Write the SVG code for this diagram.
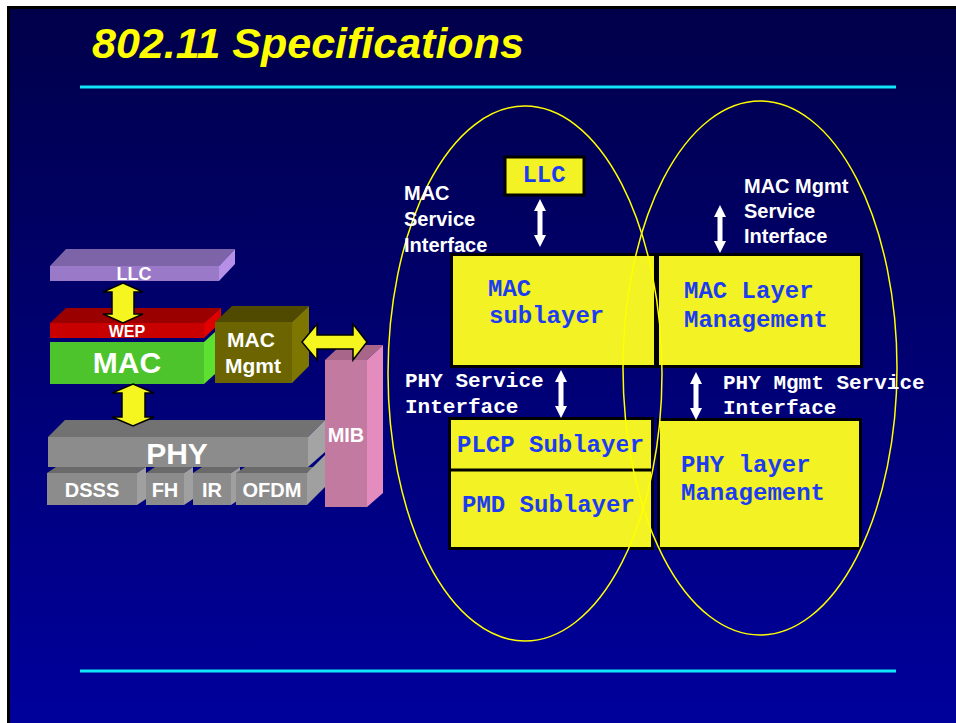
<svg xmlns="http://www.w3.org/2000/svg" width="956" height="723" viewBox="0 0 956 723">
<defs>
<linearGradient id="bg" x1="0" y1="0" x2="0" y2="1">
<stop offset="0" stop-color="#00004a"/>
<stop offset="1" stop-color="#00009c"/>
</linearGradient>
<style>
.lab{font-family:"Liberation Sans",Arial,sans-serif;font-weight:bold;fill:#ffffff}
.mono{font-family:"Liberation Mono","Courier New",monospace;font-weight:bold}
.wm{fill:#ffffff;font-size:21px}
.bm{fill:#1c3cf2;font-size:24px}
.box{fill:#f2f224;stroke:#000000;stroke-width:3}
.ell{fill:none;stroke:#ffff00;stroke-width:1.5}
.yarr{fill:#f5f520;stroke:#000000;stroke-width:1.5;stroke-linejoin:miter}
.warr{fill:#ffffff}
.rule{stroke:#10e8f8;stroke-width:3}
.c{text-anchor:middle}
</style>
</defs>
<rect x="0" y="0" width="956" height="723" fill="#ffffff"/>
<rect x="7" y="6" width="949" height="717" fill="#000000"/>
<rect x="10" y="9" width="946" height="714" fill="url(#bg)"/>
<text x="92" y="58" font-family="Liberation Sans,Arial,sans-serif" font-weight="bold" font-style="italic" font-size="43" fill="#ffff00">802.11 Specifications</text>
<line class="rule" x1="80" y1="87" x2="896" y2="87"/>
<line class="rule" x1="80" y1="671" x2="896" y2="671"/>

<g id="llc-slab">
<polygon points="50,266 219,266 235,249 66,249" fill="#7d64a8"/>
<polygon points="219,266 235,249 235,264 219,281" fill="#b690e6"/>
<rect x="50" y="266" width="169" height="15" fill="#9b79c9"/>
<text class="lab c" x="134" y="280" font-size="18">LLC</text>
</g>
<g id="wep-slab">
<polygon points="50,323 204,323 221,308 66,308" fill="#9a0000"/>
<polygon points="204,323 221,308 221,322 204,338" fill="#e00000"/>
<rect x="50" y="323" width="154" height="15" fill="#c80000"/>
<text class="lab c" x="127" y="337" font-size="16">WEP</text>
</g>
<g id="mac-slab">
<polygon points="204,342 215,332 215,374 204,384" fill="#5ee030"/>
<rect x="50" y="342" width="154" height="42" fill="#4dc42b"/>
<text class="lab c" x="127" y="373" font-size="30">MAC</text>
</g>
<g id="mac-mgmt">
<polygon points="215,322 292,322 309,306 232,306" fill="#4f4a00"/>
<polygon points="292,322 309,306 309,366 292,383" fill="#7d7600"/>
<rect x="215" y="322" width="77" height="61" fill="#6b6400"/>
<text class="lab c" x="251" y="347" font-size="21">MAC</text>
<text class="lab c" x="253" y="373" font-size="21">Mgmt</text>
</g>
<g id="phy-slab">
<polygon points="48,437 308,437 325,420 65,420" fill="#727272"/>
<polygon points="308,437 325,420 325,452 308,467" fill="#a4a4a4"/>
<rect x="48" y="437" width="260" height="30" fill="#8c8c8c"/>
<text class="lab c" x="177" y="464" font-size="30">PHY</text>
</g>
<g id="dsss">
<polygon points="47,473 137,473 146,467 56,467" fill="#6a6a6a"/>
<polygon points="137,473 146,467 146,499 137,505" fill="#a0a0a0"/>
<rect x="47" y="473" width="90" height="32" fill="#8c8c8c"/>
<text class="lab c" x="92" y="497" font-size="20">DSSS</text>
</g>
<g id="fh">
<polygon points="146,473 184,473 193,467 155,467" fill="#6a6a6a"/>
<polygon points="184,473 193,467 193,499 184,505" fill="#a0a0a0"/>
<rect x="146" y="473" width="38" height="32" fill="#8c8c8c"/>
<text class="lab c" x="165" y="497" font-size="20">FH</text>
</g>
<g id="ir">
<polygon points="193,473 231,473 240,467 202,467" fill="#6a6a6a"/>
<polygon points="231,473 240,467 240,499 231,505" fill="#a0a0a0"/>
<rect x="193" y="473" width="38" height="32" fill="#8c8c8c"/>
<text class="lab c" x="212" y="497" font-size="20">IR</text>
</g>
<g id="ofdm">
<polygon points="236,473 307,473 316,467 245,467" fill="#6a6a6a"/>
<polygon points="307,473 325,455 325,487 307,505" fill="#a0a0a0"/>
<rect x="236" y="473" width="71" height="32" fill="#8c8c8c"/>
<text class="lab c" x="272" y="497" font-size="20">OFDM</text>
</g>
<g id="mib">
<polygon points="325,360 367,360 383,345 341,345" fill="#a8668a"/>
<polygon points="367,360 383,345 383,493 367,507" fill="#e48cbe"/>
<rect x="325" y="360" width="42" height="147" fill="#c27aa0"/>
<text class="lab c" x="346" y="442" font-size="20">MIB</text>
</g>

<g id="r-llc">
<rect class="box" x="505" y="157" width="79" height="38"/>
<text class="mono bm c" x="544" y="182">LLC</text>
</g>
<g id="mac-sublayer">
<rect class="box" x="451.5" y="254.5" width="204" height="112"/>
<text class="mono bm" x="488" y="296">MAC</text>
<text class="mono bm" x="489" y="323">sublayer</text>
</g>
<g id="mac-layer-mgmt">
<rect class="box" x="657.5" y="254.5" width="204" height="112"/>
<text class="mono bm" x="684" y="298">MAC Layer</text>
<text class="mono bm" x="684" y="327">Management</text>
</g>
<g id="plcp-pmd">
<rect class="box" x="449.5" y="418.5" width="203" height="130"/>
<line x1="449" y1="470" x2="653" y2="470" stroke="#000000" stroke-width="3"/>
<text class="mono bm" x="457" y="452">PLCP Sublayer</text>
<text class="mono bm" x="462" y="512">PMD Sublayer</text>
</g>
<g id="phy-layer-mgmt">
<rect class="box" x="658.5" y="419.5" width="202" height="129"/>
<text class="mono bm" x="681" y="472">PHY layer</text>
<text class="mono bm" x="681" y="500">Management</text>
</g>

<g id="connectors">
<polygon class="yarr" points="123,283 143,292 134,292 134,314 143,314 123,323 103,314 112,314 112,292 103,292"/>
<polygon class="yarr" points="133,384 154,393 145,393 145,417 154,417 133,426 112,417 122,417 122,393 112,393"/>
<polygon class="yarr" points="302,342 317,324 317,335 353,335 353,324 367,342 353,360 353,349 317,349 317,360"/>
<polygon class="warr" points="540,199 546,211 542.5,211 542.5,235 546,235 540,247 534,235 537.5,235 537.5,211 534,211"/>
<polygon class="warr" points="720,205 726,217 722.5,217 722.5,241 726,241 720,253 714,241 717.5,241 717.5,217 714,217"/>
<polygon class="warr" points="561,370 567,382 563.5,382 563.5,406 567,406 561,418 555,406 558.5,406 558.5,382 555,382"/>
<polygon class="warr" points="696,372 702,384 698.5,384 698.5,408 702,408 696,420 690,408 693.5,408 693.5,384 690,384"/>
</g>

<ellipse class="ell" cx="525" cy="373.5" rx="137" ry="267.5"/>
<ellipse class="ell" cx="760" cy="368" rx="137" ry="267"/>

<g id="labels">
<text class="lab" x="404" y="200" font-size="20">MAC</text>
<text class="lab" x="404" y="226" font-size="20">Service</text>
<text class="lab" x="404" y="252" font-size="20">Interface</text>
<text class="lab" x="744" y="193" font-size="20">MAC Mgmt</text>
<text class="lab" x="744" y="218" font-size="20">Service</text>
<text class="lab" x="744" y="243" font-size="20">Interface</text>
<text class="mono wm" x="405" y="387">PHY Service</text>
<text class="mono wm" x="405" y="413">Interface</text>
<text class="mono wm" x="723" y="389">PHY Mgmt Service</text>
<text class="mono wm" x="723" y="414">Interface</text>
</g>
</svg>
